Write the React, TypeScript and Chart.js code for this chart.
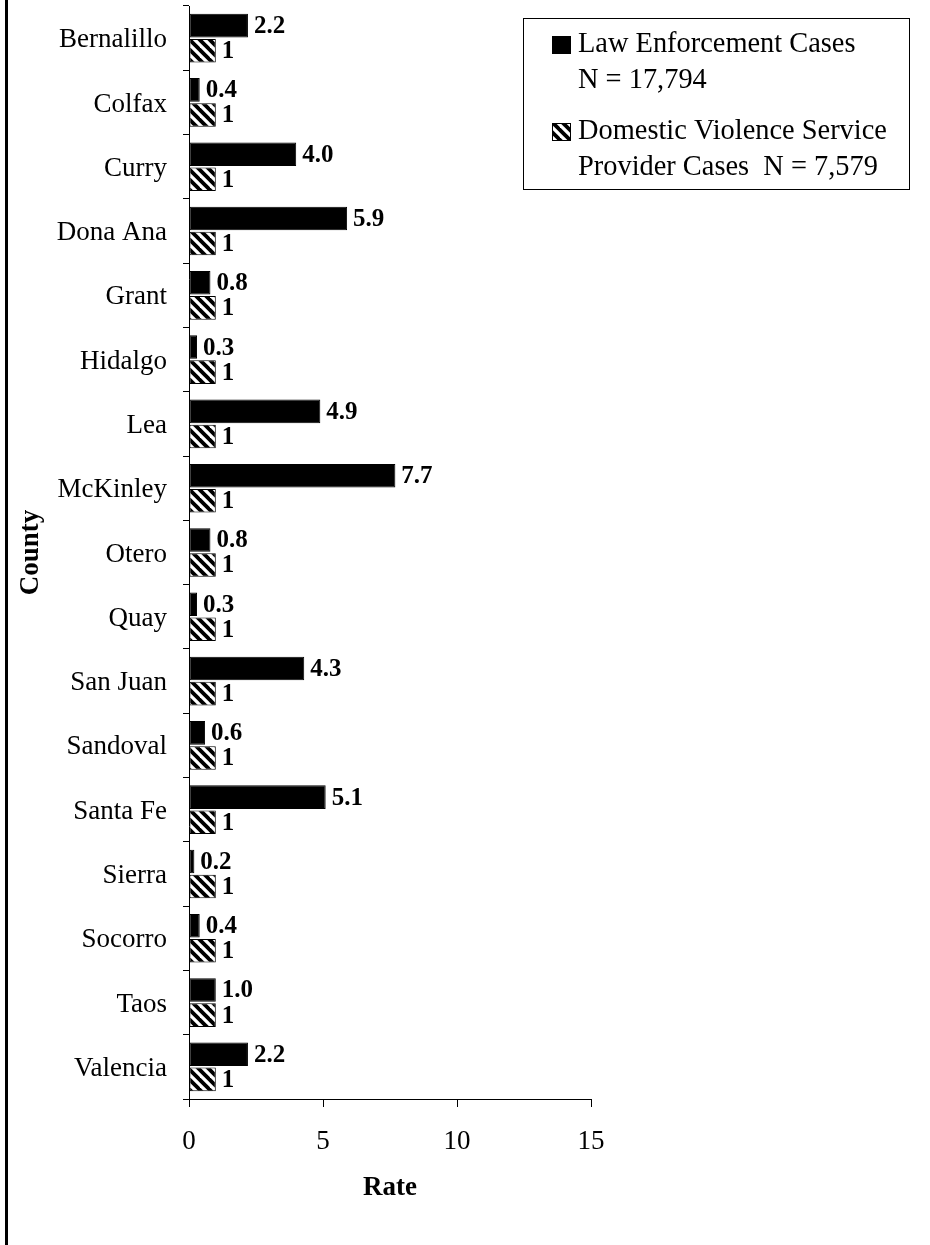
import React, { useEffect, useRef } from "react";
import { Chart, registerables } from "chart.js";

Chart.register(...registerables);

const counties = [
  "Bernalillo", "Colfax", "Curry", "Dona Ana", "Grant", "Hidalgo", "Lea", "McKinley",
  "Otero", "Quay", "San Juan", "Sandoval", "Santa Fe", "Sierra", "Socorro", "Taos", "Valencia",
];
const lawEnforcementRates = [2.2, 0.4, 4.0, 5.9, 0.8, 0.3, 4.9, 7.7, 0.8, 0.3, 4.3, 0.6, 5.1, 0.2, 0.4, 1.0, 2.2];
const serviceProviderRates = [1, 1, 1, 1, 1, 1, 1, 1, 1, 1, 1, 1, 1, 1, 1, 1, 1];
const lawEnforcementLegend = ["Law Enforcement Cases", "N = 17,794"];
const serviceProviderLegend = ["Domestic Violence Service", "Provider Cases  N = 7,579"];
const xMin = 0;
const xMax = 15;
const xStep = 5;
const xAxisTitle = "Rate";
const yAxisTitle = "County";

const FONT = '"Liberation Serif", "Times New Roman", Times, serif';

function makeHatch(): CanvasPattern | string {
  const s = 10;
  const c = document.createElement("canvas");
  c.width = s;
  c.height = s;
  const g = c.getContext("2d");
  if (!g) return "#fff";
  g.fillStyle = "#fff";
  g.fillRect(0, 0, s, s);
  g.strokeStyle = "#000";
  g.lineWidth = 3.8;
  g.lineCap = "square";
  for (const k of [-s, 0, s]) {
    g.beginPath();
    g.moveTo(k, 0);
    g.lineTo(k + s, s);
    g.stroke();
  }
  const p = g.createPattern(c, "repeat");
  return p || "#fff";
}

const valueLabelsPlugin = {
  id: "valueLabels",
  afterDatasetsDraw(chart: any) {
    const ctx = chart.ctx;
    ctx.save();
    ctx.font = `bold 25px ${FONT}`;
    ctx.fillStyle = "#000";
    ctx.textAlign = "left";
    ctx.textBaseline = "middle";
    chart.data.datasets.forEach((ds: any, di: number) => {
      const meta = chart.getDatasetMeta(di);
      meta.data.forEach((el: any, i: number) => {
        const v = ds.data[i] as number;
        const txt = di === 0 ? v.toFixed(1) : String(v);
        ctx.fillText(txt, el.x + 6, el.y + 1);
      });
    });
    ctx.restore();
  },
};

const boxLegendPlugin = {
  id: "boxLegend",
  afterDraw(chart: any) {
    const ctx = chart.ctx;
    const datasets = chart.data.datasets;
    const left = 523;
    const top = 18;
    const width = 386;
    const height = 171;
    ctx.save();
    ctx.fillStyle = "#fff";
    ctx.fillRect(left, top, width, height);
    ctx.strokeStyle = "#000";
    ctx.lineWidth = 1;
    ctx.strokeRect(left + 0.5, top + 0.5, width, height);
    ctx.font = `28.4px ${FONT}`;
    ctx.textAlign = "left";
    ctx.textBaseline = "middle";
    const items = [
      { lines: lawEnforcementLegend, y: 45, ds: datasets[0] },
      { lines: serviceProviderLegend, y: 132, ds: datasets[1] },
    ];
    items.forEach((it) => {
      const sx = 552;
      const sy = it.y - 9;
      ctx.fillStyle = it.ds.backgroundColor;
      ctx.fillRect(sx, sy, 19, 18);
      ctx.strokeStyle = "#000";
      ctx.lineWidth = 1;
      ctx.strokeRect(sx + 0.5, sy + 0.5, 18, 17);
      ctx.fillStyle = "#000";
      it.lines.forEach((line: string, li: number) => {
        ctx.fillText(line, 578, it.y + li * 36);
      });
    });
    ctx.restore();
  },
};

export default function App() {
  const canvasRef = useRef<HTMLCanvasElement | null>(null);

  useEffect(() => {
    document.body.style.margin = "0";
    const canvas = canvasRef.current;
    if (!canvas) return;
    Chart.defaults.color = "#000";
    Chart.defaults.font.family = FONT;

    const hatch = makeHatch();

    const chart = new Chart(canvas, {
      type: "bar",
      data: {
        labels: counties,
        datasets: [
          {
            label: lawEnforcementLegend.join(" "),
            data: lawEnforcementRates,
            backgroundColor: "#000",
            borderColor: "#000",
            borderWidth: 1,
            borderSkipped: false,
            categoryPercentage: 0.78,
            barPercentage: 0.94,
          },
          {
            label: serviceProviderLegend.join(" "),
            data: serviceProviderRates,
            backgroundColor: hatch as any,
            borderColor: "#000",
            borderWidth: 1,
            borderSkipped: false,
            categoryPercentage: 0.78,
            barPercentage: 0.94,
          },
        ],
      },
      options: {
        indexAxis: "y",
        responsive: false,
        animation: false,
        devicePixelRatio: 1,
        layout: { padding: { left: 0, top: 6, right: 339, bottom: 0 } },
        plugins: {
          legend: { display: false },
          tooltip: { enabled: false },
          title: { display: false },
        },
        scales: {
          x: {
            type: "linear",
            min: xMin,
            max: xMax,
            ticks: {
              stepSize: xStep,
              color: "#000",
              font: { size: 27, family: FONT },
              padding: 19,
            },
            grid: {
              drawOnChartArea: false,
              drawTicks: true,
              tickLength: 8,
              color: "#000",
            },
            border: { color: "#000", width: 1 },
            title: {
              display: true,
              text: xAxisTitle,
              color: "#000",
              font: { size: 27, weight: "bold", family: FONT },
              padding: { top: 10, bottom: 41 },
            },
            afterFit(scale: any) {
              scale.height = 146;
            },
          },
          y: {
            type: "category",
            ticks: {
              color: "#000",
              font: { size: 27, family: FONT },
              padding: 16,
              labelOffset: 2,
              autoSkip: false,
            },
            grid: {
              drawOnChartArea: false,
              drawTicks: true,
              tickLength: 6,
              color: "#000",
              offset: true,
            },
            border: { color: "#000", width: 1 },
            title: {
              display: true,
              text: yAxisTitle,
              color: "#000",
              font: { size: 27, weight: "bold", family: FONT },
              padding: { top: 15, bottom: 0 },
            },
            afterFit(scale: any) {
              scale.width = 189;
              scale.paddingTop = 0;
              scale.paddingBottom = 0;
            },
          },
        },
      },
      plugins: [valueLabelsPlugin, boxLegendPlugin],
    } as any);

    return () => {
      chart.destroy();
    };
  }, []);

  return (
    <div style={{ position: "absolute", left: 0, top: 0, width: 930, height: 1245, background: "#fff" }}>
      <canvas ref={canvasRef} width={930} height={1245} style={{ display: "block", width: 930, height: 1245 }} />
      <div style={{ position: "absolute", left: 5, top: 0, width: 3, height: 1245, background: "#000" }} />
    </div>
  );
}
